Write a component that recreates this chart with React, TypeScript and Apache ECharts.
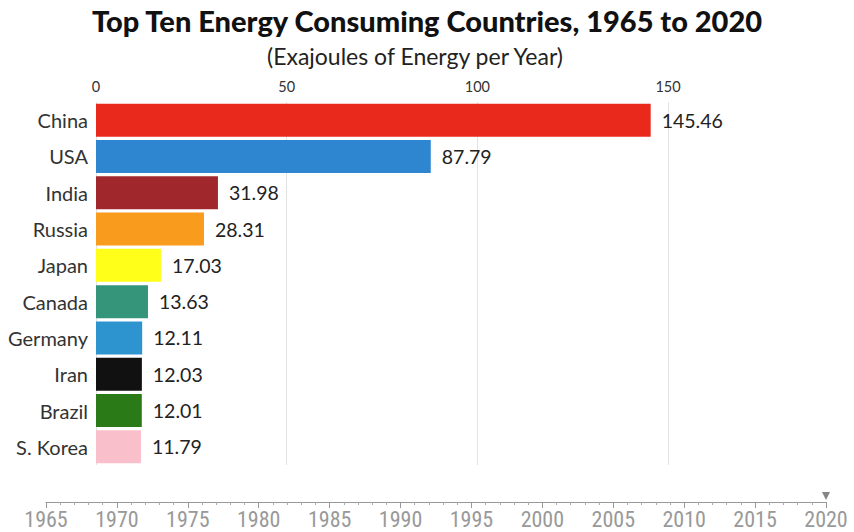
import React, { useEffect, useRef } from "react";
import * as echarts from "echarts";

const countries = ["China", "USA", "India", "Russia", "Japan", "Canada", "Germany", "Iran", "Brazil", "S. Korea"];
const values = [145.46, 87.79, 31.98, 28.31, 17.03, 13.63, 12.11, 12.03, 12.01, 11.79];
const colors = ["#e8291c", "#2f86d0", "#a0282d", "#f99b1c", "#ffff1a", "#35957a", "#2d94d0", "#111111", "#2a7a18", "#f9bfcb"];
const valueTicks = [0, 50, 100, 150];
const years = [1965, 1970, 1975, 1980, 1985, 1990, 1995, 2000, 2005, 2010, 2015, 2020];
const currentYear = 2020;

export default function App() {
  const ref = useRef<HTMLDivElement>(null);
  useEffect(() => {
    if (!ref.current) return;
    const chart = echarts.init(ref.current, null, { renderer: "svg" });
    chart.setOption({
      animation: false,
      backgroundColor: "#ffffff",
      title: [
        {
          text: "Top Ten Energy Consuming Countries, 1965 to 2020",
          left: "center",
          top: 1,
          textStyle: { fontFamily: "Lato", fontWeight: 900, fontSize: 29, color: "#111" },
        },
        {
          text: "(Exajoules of Energy per Year)",
          left: 262,
          top: 39,
          textStyle: { fontFamily: "Lato", fontWeight: "normal", fontSize: 23, color: "#222" },
        },
      ],
      grid: [
        { left: 96, right: 186, top: 102, height: 363 },
        { left: 46, right: 28, top: 501, height: 1 },
      ],
      xAxis: [
        {
          type: "value",
          gridIndex: 0,
          position: "top",
          min: valueTicks[0],
          max: valueTicks[valueTicks.length - 1],
          interval: 50,
          axisLine: { show: false },
          axisTick: { show: false },
          axisLabel: { fontFamily: "Lato", fontSize: 14.5, color: "#333", margin: 8 },
          splitLine: { show: true, lineStyle: { color: "#e3e3e3", width: 1 } },
        },
        {
          type: "value",
          gridIndex: 1,
          position: "bottom",
          min: years[0],
          max: years[years.length - 1],
          interval: 5,
          axisLine: { show: true, lineStyle: { color: "#999", width: 1 } },
          axisTick: { show: true, length: 6, lineStyle: { color: "#999" } },
          minorTick: { show: true, splitNumber: 5, length: 3, lineStyle: { color: "#aaa" } },
          axisLabel: {
            fontFamily: "'Liberation Sans Narrow', 'Roboto Condensed', Roboto, sans-serif",
            fontSize: 22,
            color: "#999",
            margin: 6,
            formatter: (v: number) => String(v),
          },
          splitLine: { show: false },
        },
      ],
      yAxis: [
        {
          type: "category",
          gridIndex: 0,
          inverse: true,
          data: countries,
          axisLine: { show: false },
          axisTick: { show: false },
          axisLabel: { fontFamily: "Lato", fontSize: 20, color: "#333", margin: 8 },
        },
        {
          type: "value",
          gridIndex: 1,
          min: 0,
          max: 1,
          show: false,
        },
      ],
      series: [
        {
          type: "bar",
          xAxisIndex: 0,
          yAxisIndex: 0,
          barWidth: "91%",
          data: values.map((v, i) => ({ value: v, itemStyle: { color: colors[i] } })),
          label: {
            show: true,
            position: "right",
            distance: 11,
            fontFamily: "Lato",
            fontSize: 19.5,
            color: "#222",
            formatter: (p: any) => Number(p.value).toFixed(2),
          },
        },
        {
          type: "scatter",
          xAxisIndex: 1,
          yAxisIndex: 1,
          symbol: "triangle",
          symbolRotate: 180,
          symbolSize: 8,
          symbolOffset: [0, -6],
          itemStyle: { color: "#666" },
          data: [[currentYear, 0]],
        },
      ],
    });
    return () => chart.dispose();
  }, []);
  return <div ref={ref} style={{ width: 854, height: 532, position: "absolute", left: 0, top: 0 }} />;
}
